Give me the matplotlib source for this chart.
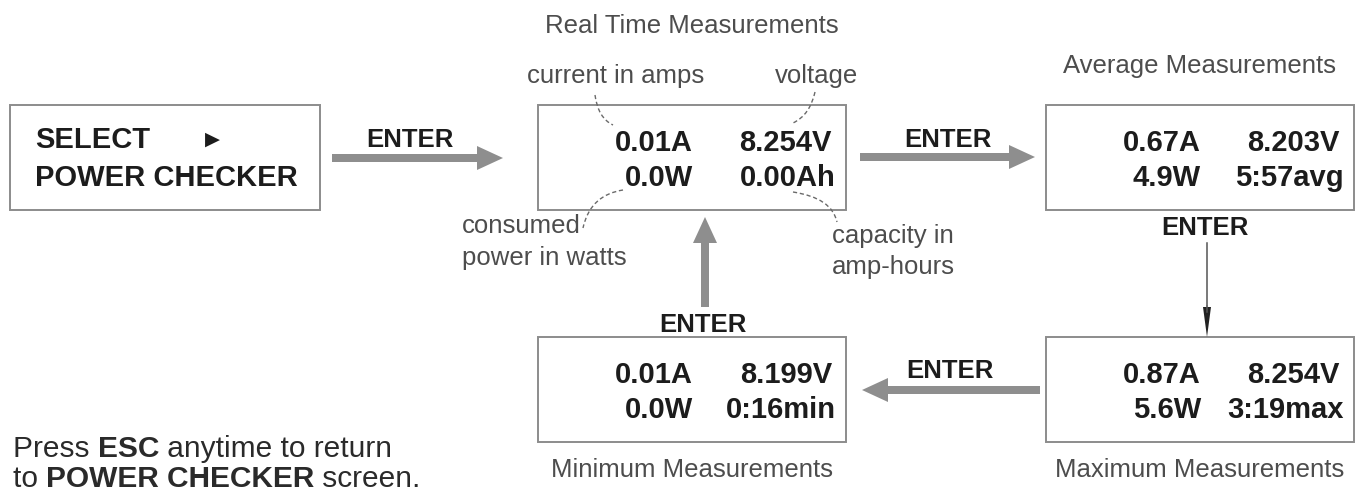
import matplotlib.pyplot as plt
from matplotlib.patches import Rectangle, FancyArrow, PathPatch
from matplotlib.path import Path

# screen contents
screen_titles = ["Real Time Measurements", "Average Measurements",
                 "Minimum Measurements", "Maximum Measurements"]
amps = ["0.01A", "0.67A", "0.01A", "0.87A"]
volts = ["8.254V", "8.203V", "8.199V", "8.254V"]
watts = ["0.0W", "4.9W", "0.0W", "5.6W"]
extra = ["0.00Ah", "5:57avg", "0:16min", "3:19max"]
callouts = ["current in amps", "voltage", "consumed\npower in watts", "capacity in\namp-hours"]
key_label = "ENTER"

plt.rcParams['font.family'] = ['Liberation Sans', 'DejaVu Sans']

fig = plt.figure(figsize=(13.61, 4.98), dpi=100)
ax = fig.add_axes([0, 0, 1, 1])
ax.set_xlim(0, 1361)
ax.set_ylim(498, 0)
ax.axis('off')

box_col = '#8c8c8c'
arrow_col = '#8e8e8e'
num_col = '#1c1c1c'
lab_col = '#4d4d4d'
num_size = 21
lab_size = 18.5
enter_size = 18.5

# screen boxes: left, top (width/height shared), title baseline
box_w, box_h = 308, 105
box_pos = [(538, 105), (1046, 105), (538, 337), (1046, 337)]
title_y = [33, 73, 477, 477]

# select screen
ax.add_patch(Rectangle((10, 105), 310, 105, fill=False, ec=box_col, lw=1.4))
ax.text(35, 148, "SELECT", fontsize=num_size, fontweight='bold', color=num_col)
ax.text(212, 145, "\u25B6", fontsize=14, color=num_col, ha='center', family='DejaVu Sans')
ax.text(35, 186, "POWER CHECKER", fontsize=num_size, fontweight='bold', color=num_col)

for i, (x0, y0) in enumerate(box_pos):
    ax.add_patch(Rectangle((x0, y0), box_w, box_h, fill=False, ec=box_col, lw=1.4))
    ax.text(x0 + 155, y0 + 46, amps[i], ha='right', fontsize=num_size, fontweight='bold', color=num_col)
    ax.text(x0 + 294, y0 + 46, volts[i], ha='right', fontsize=num_size, fontweight='bold', color=num_col)
    ax.text(x0 + 155, y0 + 81, watts[i], ha='right', fontsize=num_size, fontweight='bold', color=num_col)
    ax.text(x0 + 298, y0 + 81, extra[i], ha='right', fontsize=num_size, fontweight='bold', color=num_col)
    ax.text(x0 + box_w / 2, title_y[i], screen_titles[i], ha='center', fontsize=lab_size, color=lab_col)

# callout labels
ax.text(527, 83, callouts[0], fontsize=lab_size, color=lab_col)
ax.text(775, 83, callouts[1], fontsize=lab_size, color=lab_col)
ax.text(462, 233, callouts[2].split("\n")[0], fontsize=lab_size, color=lab_col)
ax.text(462, 265, callouts[2].split("\n")[1], fontsize=lab_size, color=lab_col)
ax.text(832, 243, callouts[3].split("\n")[0], fontsize=lab_size, color=lab_col)
ax.text(832, 274, callouts[3].split("\n")[1], fontsize=lab_size, color=lab_col)

# dashed leader curves
curves = [[(595, 95), (598, 118), (613, 125)],
          [(815, 92), (810, 115), (793, 123)],
          [(623, 190), (590, 195), (583, 228)],
          [(793, 192), (832, 198), (837, 222)]]
for c in curves:
    p = Path(c, [Path.MOVETO, Path.CURVE3, Path.CURVE3])
    ax.add_patch(PathPatch(p, fill=False, ec='#6a6a6a', lw=1.0, ls=(0, (3, 2))))

# thick grey arrows
def grey_arrow(x, y, dx, dy):
    ax.add_patch(FancyArrow(x, y, dx, dy, width=8, head_width=24, head_length=26,
                            length_includes_head=True, color=arrow_col, lw=0))

grey_arrow(332, 158, 171, 0)
grey_arrow(860, 157, 175, 0)
grey_arrow(1040, 390, -178, 0)
grey_arrow(705, 307, 0, -90)

# thin arrow down from average to maximum
ax.plot([1207, 1207], [243, 312], color='#555555', lw=1.1)
ax.add_patch(FancyArrow(1207, 305, 0, 32, width=0.5, head_width=8, head_length=30,
                        length_includes_head=True, color='#222222', lw=0))

# ENTER labels
for ex, ey in [(410, 147), (948, 147), (1205, 235), (950, 378), (703, 332)]:
    ax.text(ex, ey, key_label, ha='center', fontsize=enter_size, fontweight='bold', color=num_col)

# footnote with mixed weights
renderer = fig.canvas.get_renderer()
def mixed_line(x, y, parts):
    for s, w in parts:
        t = ax.text(x, y, s, fontsize=21.5, fontweight=w, color='#2a2a2a')
        bb = t.get_window_extent(renderer)
        x += bb.width

mixed_line(13, 457, [("Press ", 'normal'), ("ESC", 'bold'), (" anytime to return", 'normal')])
mixed_line(13, 487, [("to ", 'normal'), ("POWER CHECKER", 'bold'), (" screen.", 'normal')])

fig.savefig('out.png', dpi=100)
